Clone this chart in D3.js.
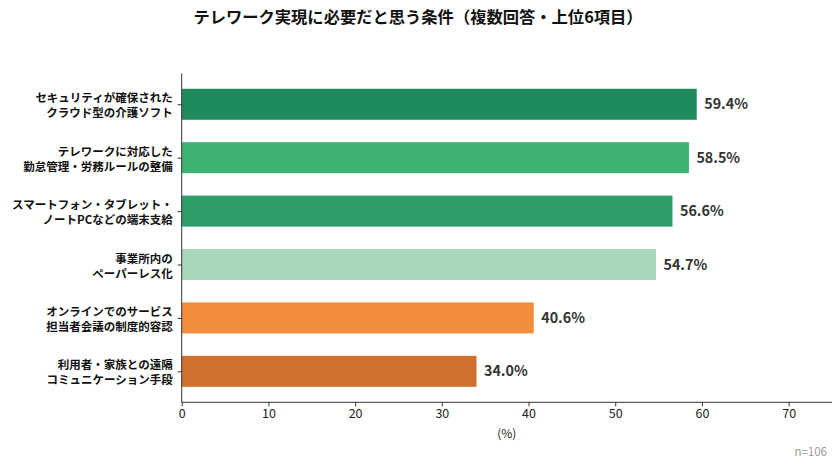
<!DOCTYPE html>
<html>
<head>
<meta charset="utf-8">
<script src="https://cdn.jsdelivr.net/npm/d3@7"></script>
<style>
  body { margin: 0; background: #fff; }
  svg { font-family: "Noto Sans CJK JP", "Noto Sans", sans-serif; }
</style>
</head>
<body>
<div id="chart"></div>
<script>
// data
const labels = [
  ["セキュリティが確保された", "クラウド型の介護ソフト"],
  ["テレワークに対応した", "勤怠管理・労務ルールの整備"],
  ["スマートフォン・タブレット・", "ノートPCなどの端末支給"],
  ["事業所内の", "ペーパーレス化"],
  ["オンラインでのサービス", "担当者会議の制度的容認"],
  ["利用者・家族との遠隔", "コミュニケーション手段"]
];
const values = [59.4, 58.5, 56.6, 54.7, 40.6, 34.0];
const colors = ["#1e8a5e", "#3cb371", "#2e9d68", "#a8d8b9", "#f28e3b", "#d07030"];
const xTicks = [0, 10, 20, 30, 40, 50, 60, 70];

const width = 840, height = 467;
const plotLeft = 181.7, plotRight = 832, plotTop = 73.3, plotBottom = 402.3;

const svg = d3.select("#chart").append("svg")
    .attr("width", width)
    .attr("height", height);

// title
svg.append("text")
    .attr("x", 418).attr("y", 23)
    .attr("text-anchor", "middle")
    .attr("font-size", 16.3).attr("font-weight", "bold")
    .attr("fill", "#111")
    .text("テレワーク実現に必要だと思う条件（複数回答・上位6項目）");

const x = d3.scaleLinear().domain([0, 75]).range([plotLeft, plotRight]);
// matplotlib-like: bars at 0..5, height 0.58, 5% margins
const y = d3.scaleLinear().domain([-0.58, 5.58]).range([plotTop, plotBottom]);
const barH = y(0.29) - y(-0.29);

// bars
svg.append("g").selectAll("rect")
    .data(values)
    .enter().append("rect")
    .attr("x", x(0))
    .attr("y", (d, i) => y(i) - barH / 2)
    .attr("width", d => x(d) - x(0))
    .attr("height", barH)
    .attr("fill", (d, i) => colors[i]);

// value labels
svg.append("g").selectAll("text")
    .data(values)
    .enter().append("text")
    .attr("x", d => x(d) + 7.5)
    .attr("y", (d, i) => y(i))
    .attr("dy", "0.36em")
    .attr("font-size", 14.3).attr("font-weight", "bold")
    .attr("fill", "#333")
    .text(d => d.toFixed(1) + "%");

// x axis
const xAxis = svg.append("g")
    .attr("transform", `translate(0,${plotBottom})`)
    .call(d3.axisBottom(x).tickValues(xTicks).tickSize(4).tickPadding(3));
xAxis.select(".domain").attr("stroke", "#333").attr("d", `M${plotLeft},0H${plotRight}`);
xAxis.selectAll(".tick line").attr("stroke", "#333");
xAxis.selectAll(".tick text")
    .attr("font-size", 12.5).attr("fill", "#222")
    .attr("font-family", "'Noto Sans CJK JP', sans-serif");

// y axis
const yAxis = svg.append("g")
    .attr("transform", `translate(${plotLeft},0)`)
    .call(d3.axisLeft(y).tickValues(d3.range(6)).tickSize(4).tickFormat(""));
yAxis.select(".domain").attr("stroke", "#333").attr("d", `M0,${plotTop}V${plotBottom}`);
yAxis.selectAll(".tick line").attr("stroke", "#333");

// category labels (two lines each)
const cat = svg.append("g").selectAll("text")
    .data(labels)
    .enter().append("text")
    .attr("text-anchor", "end")
    .attr("font-size", 11.5).attr("font-weight", "bold")
    .attr("fill", "#111");
cat.each(function(d, i) {
  const t = d3.select(this);
  d.forEach((line, j) => {
    t.append("tspan")
      .attr("x", plotLeft - 9)
      .attr("y", y(i) + (j === 0 ? -6 : 9))
      .attr("dy", "0.36em")
      .text(line);
  });
});

// axis title
svg.append("text")
    .attr("x", (plotLeft + plotRight) / 2)
    .attr("y", 438)
    .attr("text-anchor", "middle")
    .attr("font-size", 12).attr("fill", "#222")
    .text("(%)");

// sample size
svg.append("text")
    .attr("x", 827).attr("y", 456)
    .attr("text-anchor", "end")
    .attr("font-size", 11.5).attr("fill", "#999")
    .text("n=106");
</script>
</body>
</html>
